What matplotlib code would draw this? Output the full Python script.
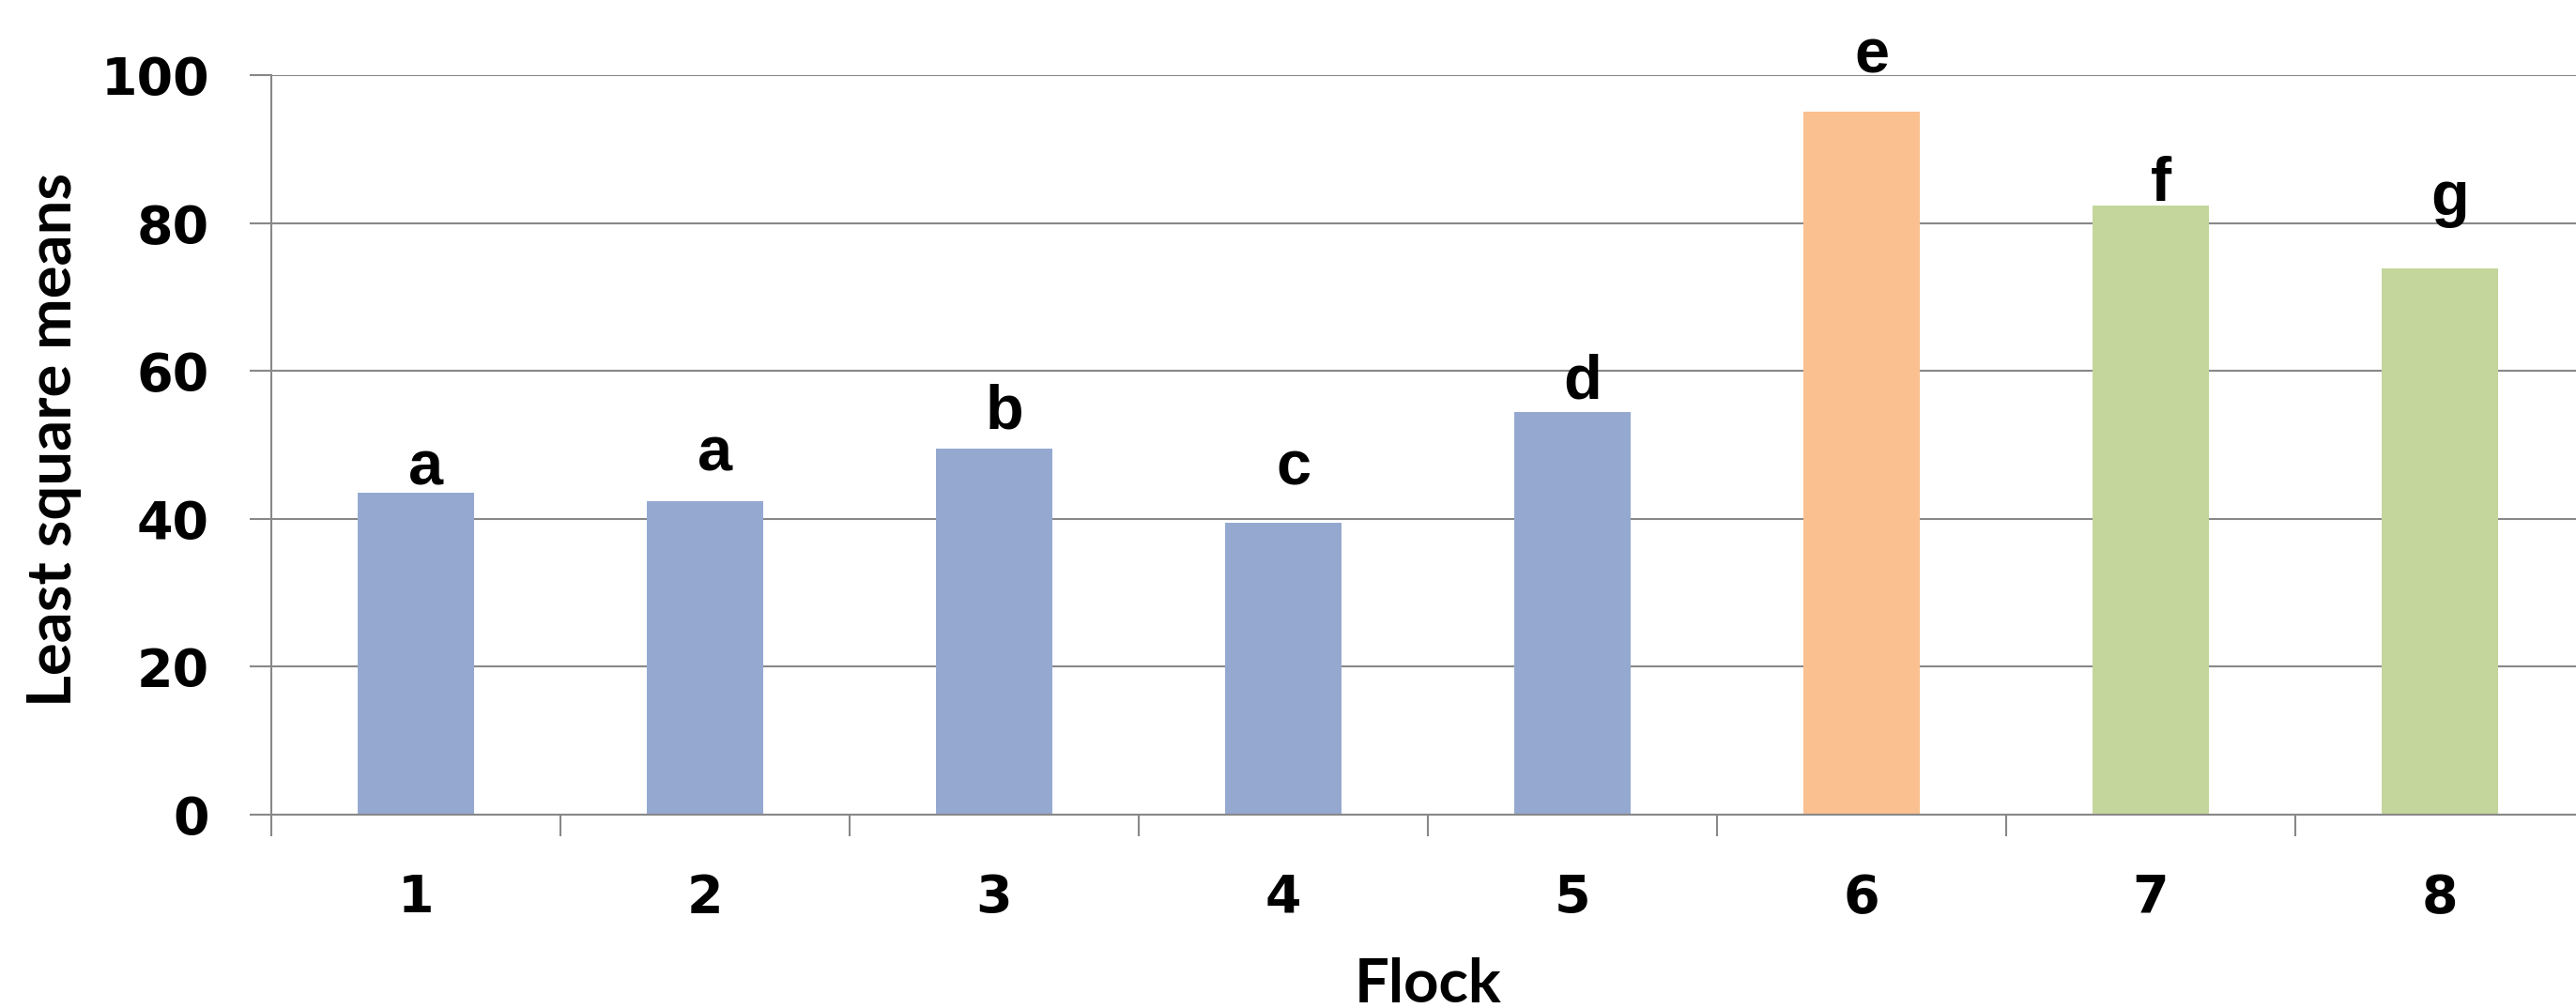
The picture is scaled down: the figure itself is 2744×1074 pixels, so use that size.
import matplotlib
matplotlib.use("Agg")
import matplotlib.pyplot as plt
from matplotlib import font_manager

# ---- data ----
flocks = ["1", "2", "3", "4", "5", "6", "7", "8"]
lsmeans = [43.5, 42.4, 49.5, 39.5, 54.4, 95.1, 82.4, 73.9]
letters = ["a", "a", "b", "c", "d", "e", "f", "g"]
letter_y = [44.6, 46.5, 52.2, 44.6, 56.3, 100.3, 83.0, 81.1]
bar_colors = ["#95A9D0", "#95A9D0", "#95A9D0", "#95A9D0", "#95A9D0",
              "#FAC08F", "#C4D69B", "#C4D69B"]
yticks = [0, 20, 40, 60, 80, 100]

available = {f.name for f in font_manager.fontManager.ttflist}
label_font = "Lato" if "Lato" in available else "DejaVu Sans"

W, H, DPI = 2744, 1074, 100
fig = plt.figure(figsize=(W / DPI, H / DPI), dpi=DPI)
ax = fig.add_axes([289 / W, 1 - 868 / H, 8 * 308 / W, (868 - 80) / H])

grid_c = "#888888"
x = list(range(len(flocks)))
ax.bar(x, lsmeans, width=0.40, color=bar_colors, zorder=3)

ax.set_xlim(-0.5, 7.5)
ax.set_ylim(0, 100)
ax.set_yticks(yticks)
ax.set_yticklabels([str(v) for v in yticks])
ax.yaxis.grid(True, color=grid_c, linewidth=1.5, zorder=0)
ax.set_axisbelow(True)

ax.set_xticks(x)
ax.set_xticklabels(flocks)
ax.set_xticks([i - 0.5 for i in range(len(flocks) + 1)], minor=True)

for s in ["top", "right"]:
    ax.spines[s].set_visible(False)
for s in ["left", "bottom"]:
    ax.spines[s].set_color(grid_c)
    ax.spines[s].set_linewidth(1.5)
    ax.spines[s].set_zorder(4)

tick_font = dict(family="DejaVu Sans", weight="bold", size=40)
ax.tick_params(axis="x", which="major", length=0, pad=44.5)
ax.tick_params(axis="x", which="minor", length=16.5, width=1.5, color=grid_c,
               direction="out")
ax.tick_params(axis="y", which="major", length=16.5, width=1.5, color=grid_c,
               direction="out", pad=31)
for lab in ax.get_xticklabels() + ax.get_yticklabels():
    lab.set_fontproperties(font_manager.FontProperties(**tick_font))

for xi, lt, ly in zip(x, letters, letter_y):
    ax.text(xi + 0.035, ly, lt, ha="center", va="baseline",
            family="Liberation Sans", weight="bold", fontsize=48,
            clip_on=False, zorder=5)

fig.text(58 / W, 1 - 468 / H, "Least square means", rotation=90,
         ha="center", va="center", family=label_font, weight="bold",
         fontsize=47)
fig.text(1521 / W, 1 - 1068 / H, "Flock", ha="center", va="baseline",
         family=label_font, weight="bold", fontsize=47)

fig.savefig("out.png", dpi=DPI)
